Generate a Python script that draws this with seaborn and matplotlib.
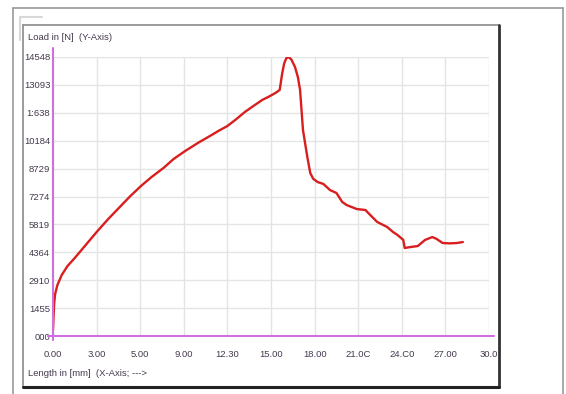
import matplotlib
matplotlib.use("Agg")
import matplotlib.pyplot as plt
import seaborn as sns
from matplotlib.lines import Line2D

# curve: length [mm] vs load [N]
length_mm = [0.0, 0.03, 0.08, 0.15, 0.3, 0.6, 1.0, 1.5, 2.2, 3.0, 3.8, 4.6, 5.3, 6.05, 6.8,
             7.6, 8.3, 9.1, 10.0, 10.8, 11.4, 12.0, 12.6, 13.2, 13.8, 14.4, 14.9, 15.3, 15.6,
             15.75, 15.9, 16.05, 16.2, 16.4, 16.65, 16.85, 17.0, 17.2, 17.5, 17.7, 17.9, 18.2,
             18.6, 19.06, 19.5, 19.9, 20.2, 20.9, 21.5, 21.7, 22.3, 23.0, 23.4, 23.7, 24.1,
             24.2, 24.6, 25.1, 25.6, 26.1, 26.4, 26.8, 27.3, 27.8, 28.2]
load_n = [300, 900, 1700, 2200, 2650, 3180, 3650, 4070, 4700, 5420, 6100, 6730, 7280, 7820, 8300,
          8760, 9230, 9650, 10080, 10430, 10700, 10950, 11300, 11680, 12000, 12310, 12500, 12670, 12830,
          13600, 14200, 14480, 14550, 14420, 14030, 13500, 12830, 10740, 9330, 8500, 8200, 8030,
          7930, 7610, 7460, 6990, 6830, 6620, 6570, 6410, 5950, 5680, 5420, 5270, 5010,
          4590, 4640, 4690, 5010, 5160, 5060, 4850, 4830, 4850, 4900]

y_ticks = [0, 1455, 2910, 4364, 5819, 7274, 8729, 10184, 11638, 13093, 14548]
y_labels = ["000", "1455", "2910", "4364", "5819", "7274", "8729", "10184", "1:638", "13093", "14548"]
x_ticks = [0, 3, 6, 9, 12, 15, 18, 21, 24, 27, 30]
x_labels = ["0.00", "3.00", "5.00", "9.00", "12.30", "15.00", "18.00", "21.0C", "24.C0", "27.00", "30.0"]

W, H = 566, 394
sns.set_style("white")
plt.rcParams['font.family'] = ['Liberation Sans', 'DejaVu Sans']

fig = plt.figure(figsize=(W / 100, H / 100), dpi=100)
fig.patch.set_facecolor("white")


def fx(px):
    return px / W


def fy(py):
    return 1 - py / H


# outer window frame and inner panel
fig.add_artist(Line2D([fx(13), fx(563)], [fy(8), fy(8)], color="#9a9a9a", lw=1.2))
fig.add_artist(Line2D([fx(13), fx(13)], [fy(8), fy(394)], color="#9a9a9a", lw=1.2))
fig.add_artist(Line2D([fx(563), fx(563)], [fy(8), fy(394)], color="#9a9a9a", lw=1.2))
fig.add_artist(Line2D([fx(20), fx(42)], [fy(17), fy(17)], color="#d8d8d8", lw=1.5))
fig.add_artist(Line2D([fx(20), fx(20)], [fy(17), fy(40)], color="#d8d8d8", lw=1.5))
fig.add_artist(Line2D([fx(23), fx(499)], [fy(25), fy(25)], color="#8a8a8a", lw=1.2))
fig.add_artist(Line2D([fx(23), fx(23)], [fy(25), fy(387)], color="#8a8a8a", lw=1.2))
fig.add_artist(Line2D([fx(499), fx(499)], [fy(25), fy(387)], color="#333333", lw=2))
fig.add_artist(Line2D([fx(23), fx(499)], [fy(387), fy(387)], color="#222222", lw=2.2))

ax = fig.add_axes([fx(53), fy(336), (489 - 53) / W, (336 - 57) / H])
ax.set_facecolor("white")
sns.lineplot(x=length_mm, y=load_n, sort=False, color="#d81e1e", linewidth=1.7, ax=ax)

ax.set_xlim(0, 30)
ax.set_ylim(0, 14548)
ax.set_xticks(x_ticks)
ax.set_xticklabels(x_labels)
ax.set_yticks(y_ticks)
ax.set_yticklabels(y_labels)
ax.grid(True, color="#e2e5e2", linewidth=1)
for s in ax.spines.values():
    s.set_visible(False)
ax.tick_params(axis="both", length=0, labelsize=6.8, labelcolor="#45394f")
ax.tick_params(axis="x", pad=10)
ax.tick_params(axis="y", pad=2)

ax.axhline(0, xmin=-5 / 436, xmax=1 + 5 / 436, color="#d070e0", lw=1.5, clip_on=False)
ax.axvline(0, ymin=-4 / 279, ymax=1 + 9 / 279, color="#d070e0", lw=1.5, clip_on=False)

fig.text(fx(28), fy(37), "Load in [N]  (Y-Axis)", fontsize=6.8, color="#45394f", va="center", ha="left")
fig.text(fx(28), fy(373), "Length in [mm]  (X-Axis; --->", fontsize=6.8, color="#45394f", va="center", ha="left")

fig.savefig("out.png", dpi=100, facecolor="white")
